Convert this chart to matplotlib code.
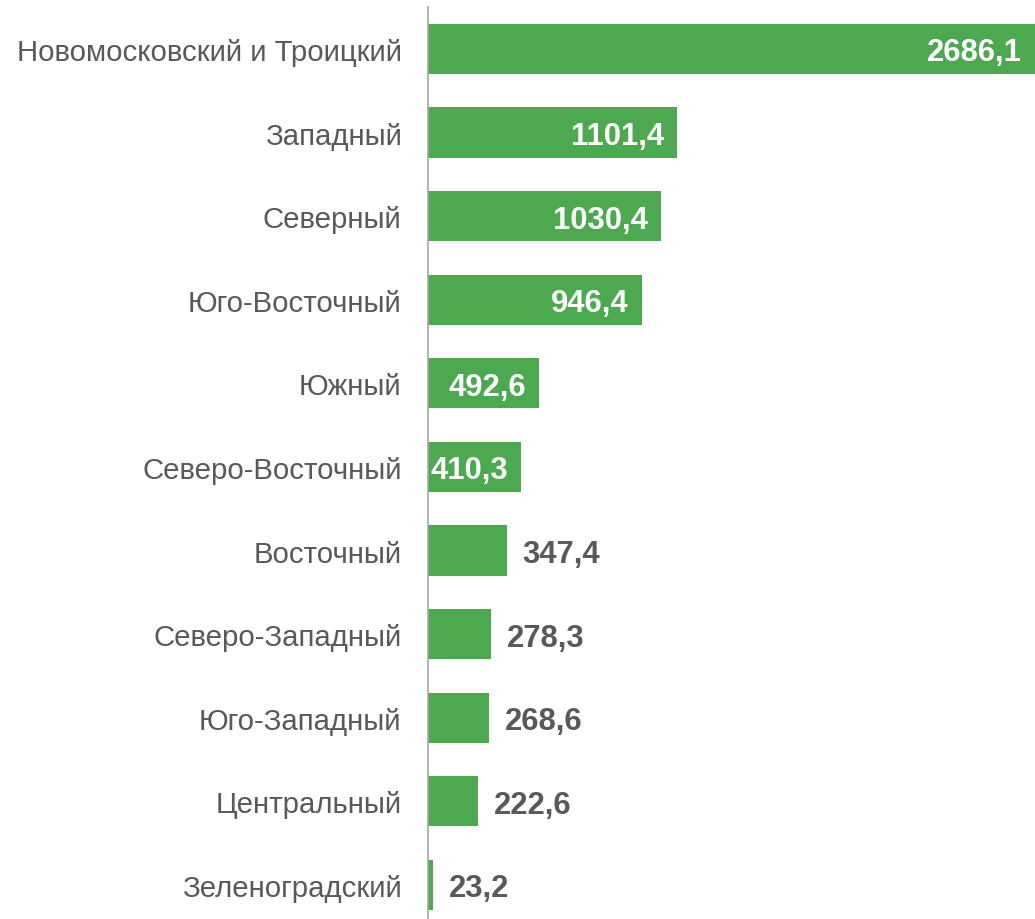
import matplotlib
matplotlib.use("Agg")
import matplotlib.pyplot as plt
from matplotlib.transforms import offset_copy

categories = ["Новомосковский и Троицкий", "Западный", "Северный", "Юго-Восточный",
              "Южный", "Северо-Восточный", "Восточный", "Северо-Западный",
              "Юго-Западный", "Центральный", "Зеленоградский"]
values = [2686.1, 1101.4, 1030.4, 946.4, 492.6, 410.3, 347.4, 278.3, 268.6, 222.6, 23.2]

BAR = "#4CA94F"
TXT = "#595959"

plt.rcParams['font.family'] = ['Liberation Sans', 'DejaVu Sans']

fig = plt.figure(figsize=(10.35, 9.2), dpi=100)
ax = fig.add_axes([428/1035, 0, 1 - 428/1035, (920-8)/920])

y = list(range(len(categories)))
ax.barh(y, values, height=0.6, color=BAR)
ax.set_xlim(0, max(values))
ax.set_ylim(10.407, -0.502)

ax.set_yticks(y)
ax.set_yticklabels(categories, fontsize=21.2, color=TXT)
ax.tick_params(axis='y', length=0, pad=19)
ax.set_xticks([])
for s in ["top", "right", "bottom"]:
    ax.spines[s].set_visible(False)
ax.spines["left"].set_color("#A6A6A6")
ax.spines["left"].set_linewidth(1.2)

for yi, v in zip(y, values):
    lab = f"{v:.1f}".replace(".", ",")
    if v > 380:
        tr = offset_copy(ax.transData, fig=fig, x=-13, y=0, units='dots')
        ax.text(v, yi, lab, transform=tr, ha='right', va='center_baseline',
                fontsize=22.3, fontweight='bold', color='white')
    else:
        tr = offset_copy(ax.transData, fig=fig, x=16, y=0, units='dots')
        ax.text(v, yi, lab, transform=tr, ha='left', va='center_baseline',
                fontsize=22.3, fontweight='bold', color=TXT)

fig.savefig("out.png", dpi=100)
